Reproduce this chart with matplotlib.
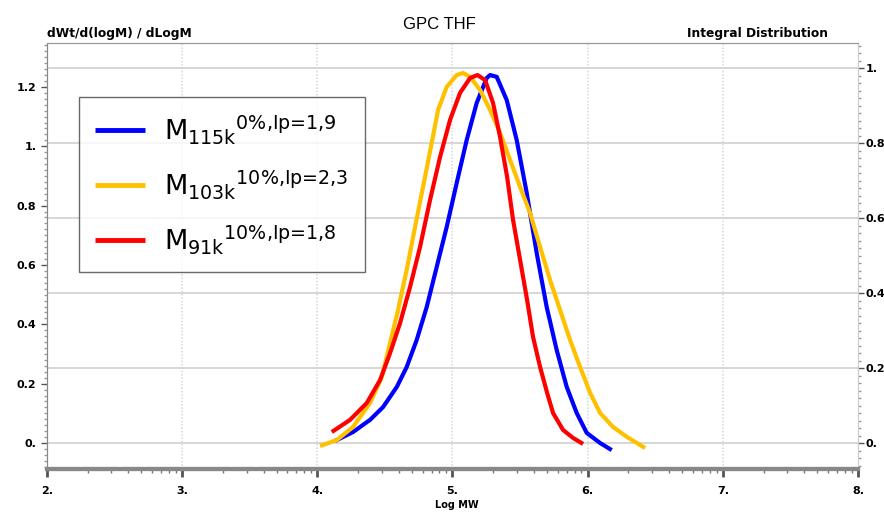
import numpy as np
import matplotlib.pyplot as plt
from matplotlib.ticker import MultipleLocator, FixedLocator

plt.rcParams['mathtext.default'] = 'regular'

# values: log M and dw/dlogM
logm_115k = [4.131, 4.264, 4.390, 4.486, 4.588, 4.661, 4.735, 4.809, 4.883, 4.957, 5.031, 5.105,
             5.179, 5.253, 5.278, 5.327, 5.401, 5.475, 5.549, 5.623, 5.697, 5.771, 5.845, 5.919,
             5.993, 6.092, 6.178]
dw_115k = [0.007, 0.037, 0.078, 0.121, 0.189, 0.256, 0.347, 0.458, 0.593, 0.728, 0.876, 1.021,
           1.146, 1.230, 1.240, 1.234, 1.156, 1.021, 0.843, 0.640, 0.458, 0.313, 0.189, 0.101,
           0.034, 0.000, -0.024]

logm_103k = [4.020, 4.144, 4.264, 4.390, 4.477, 4.538, 4.597, 4.661, 4.723, 4.782, 4.846, 4.893,
             4.957, 5.031, 5.078, 5.130, 5.204, 5.278, 5.352, 5.426, 5.500, 5.574, 5.648, 5.722,
             5.796, 5.870, 5.944, 6.018, 6.092, 6.188, 6.292, 6.425]
dw_103k = [-0.010, 0.010, 0.054, 0.135, 0.222, 0.337, 0.448, 0.583, 0.728, 0.863, 1.011, 1.122,
           1.200, 1.240, 1.247, 1.234, 1.190, 1.122, 1.045, 0.954, 0.863, 0.775, 0.661, 0.549,
           0.448, 0.347, 0.256, 0.169, 0.101, 0.054, 0.020, -0.017]

logm_91k = [4.107, 4.242, 4.366, 4.464, 4.538, 4.612, 4.686, 4.760, 4.834, 4.908, 4.982, 5.056,
            5.130, 5.185, 5.241, 5.300, 5.352, 5.404, 5.448, 5.500, 5.552, 5.596, 5.648, 5.700,
            5.744, 5.818, 5.892, 5.966]
dw_91k = [0.037, 0.078, 0.135, 0.212, 0.303, 0.404, 0.526, 0.661, 0.819, 0.964, 1.089, 1.180,
          1.230, 1.240, 1.223, 1.146, 1.031, 0.897, 0.752, 0.617, 0.482, 0.357, 0.256, 0.169,
          0.101, 0.044, 0.017, -0.003]

labels = [r'M$_{\text{115k}}$$^{\text{0%,Ip=1,9}}$',
          r'M$_{\text{103k}}$$^{\text{10%,Ip=2,3}}$',
          r'M$_{\text{91k}}$$^{\text{10%,Ip=1,8}}$']
colors = ['#0000ff', '#ffc000', '#ff0000']

x_ticks = [2, 3, 4, 5, 6, 7, 8]
y_ticks = [0, 0.2, 0.4, 0.6, 0.8, 1, 1.2]
y_tick_labels = ['0.', '0.2', '0.4', '0.6', '0.8', '1.', '1.2']
r_ticks = [0, 0.2, 0.4, 0.6, 0.8, 1]
r_tick_labels = ['0.', '0.2', '0.4', '0.6', '0.8', '1.']

fig = plt.figure(figsize=(8.84, 5.14), dpi=100)
ax = fig.add_axes([47/884, 1-469/514, 811/884, 426/514])
ax2 = ax.twinx()

ax.set_xlim(2, 8)
ax.set_ylim(-0.0876, 1.348)
ax2.set_ylim(-0.069, 1.0667)

# grid: vertical at major x, horizontal at right-axis ticks
for xv in x_ticks[1:-1]:
    ax.axvline(xv, color='#dddddd', lw=1.2, ls=(0, (1, 1)), zorder=0)
for yv in r_ticks:
    ax2.axhline(yv, color='#d0d0d0', lw=1.2, zorder=0)

lines = []
for xs, ys, c, lab in zip([logm_115k, logm_103k, logm_91k],
                          [dw_115k, dw_103k, dw_91k], colors, labels):
    ln, = ax2.plot(xs, ys, color=c, lw=3, label=lab, solid_capstyle='butt',
                   solid_joinstyle='round', transform=ax.transData)
    lines.append(ln)

ax.set_xticks(x_ticks)
ax.set_xticklabels([f'{v}.' for v in x_ticks], fontsize=8, fontweight='bold')
minor = [k + np.log10(m) for k in range(2, 8) for m in range(2, 10)]
ax.xaxis.set_minor_locator(FixedLocator(minor))
ax.set_yticks(y_ticks)
ax.set_yticklabels(y_tick_labels, fontsize=8, fontweight='bold')
ax.yaxis.set_minor_locator(MultipleLocator(0.02))
ax2.set_yticks(r_ticks)
ax2.set_yticklabels(r_tick_labels, fontsize=8, fontweight='bold')
ax2.yaxis.set_minor_locator(MultipleLocator(0.02))

ax.tick_params(axis='x', which='major', length=6, width=2, color='#555555', pad=6)
ax.tick_params(axis='x', which='minor', length=3, width=1, color='#777777')
ax.tick_params(axis='y', which='major', length=4, width=1, color='#555555')
ax.tick_params(axis='y', which='minor', length=2, width=1, color='#999999')
ax2.tick_params(axis='y', which='major', length=4, width=1, color='#555555', pad=1.5)
ax2.tick_params(axis='y', which='minor', length=2, width=1, color='#999999')

for a in (ax, ax2):
    a.spines['bottom'].set_linewidth(3)
    a.spines['bottom'].set_color('#888888')
    a.spines['left'].set_color('#888888')
    a.spines['right'].set_color('#cccccc')
    a.spines['top'].set_color('#999999')

fig.text(47/884, 1-33/514, 'dWt/d(logM) / dLogM', fontsize=8.8, fontweight='bold', va='center', ha='left')
fig.text(828/884, 1-33/514, 'Integral Distribution', fontsize=8.8, fontweight='bold', va='center', ha='right')
fig.text(457/884, 1-505/514, 'Log MW', fontsize=7, fontweight='bold', va='center', ha='center')
fig.text(439/884, 1-24/514, 'GPC THF', fontsize=12, family='Liberation Sans', va='center', ha='center')

leg = ax2.legend(handles=lines, loc='upper left', bbox_to_anchor=(32/811, (469-97)/426),
                 fontsize=19.5, frameon=True, fancybox=False, edgecolor='#444444',
                 handlelength=1.85, handletextpad=0.7, labelspacing=0.8,
                 borderpad=0.6, borderaxespad=0)
leg.get_frame().set_linewidth(1)
for h in leg.legend_handles:
    h.set_linewidth(3.5)

fig.savefig('out.png', dpi=100)
